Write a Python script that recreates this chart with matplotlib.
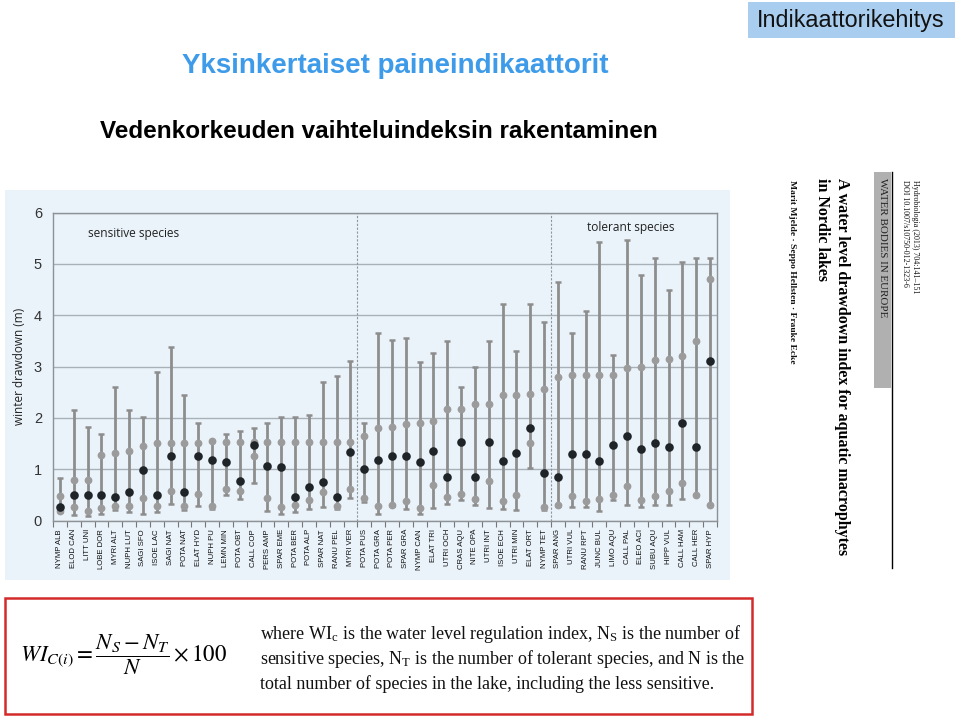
import matplotlib
matplotlib.use('Agg')
import matplotlib.pyplot as plt
from matplotlib.patches import Rectangle
from matplotlib.lines import Line2D
import numpy as np

# ---------------- data ----------------
species = ['NYMP ALB', 'ELOD CAN', 'LITT UNI', 'LOBE DOR', 'MYRI ALT', 'NUPH LUT', 'SAGI SFO',
           'ISOE LAC', 'SAGI NAT', 'POTA NAT', 'ELAT HYD', 'NUPH PU', 'LEMN MIN', 'POTA OBT',
           'CALL COP', 'PERS AMP', 'SPAR EME', 'POTA BER', 'POTA ALP', 'SPAR NAT', 'RANU PEL',
           'MYRI VER', 'POTA PUS', 'POTA GRA', 'POTA PER', 'SPAR GRA', 'NYMP CAN', 'ELAT TRI',
           'UTRI OCH', 'CRAS AQU', 'NITE OPA', 'UTRI INT', 'ISOE ECH', 'UTRI MIN', 'ELAT ORT',
           'NYMP TET', 'SPAR ANG', 'UTRI VUL', 'RANU RPT', 'JUNC BUL', 'LIMO AQU', 'CALL PAL',
           'ELEO ACI', 'SUBU AQU', 'HIPP VUL', 'CALL HAM', 'CALL HER', 'SPAR HYP']

upper_whisker = [0.84, 2.16, 1.82, 1.68, 2.60, 2.16, 2.01, 2.90, 3.39, 2.45, 1.91, 1.55,
                 1.69, 1.75, 1.81, 1.91, 2.01, 2.01, 2.06, 2.70, 2.81, 3.10, 1.90, 3.65,
                 3.51, 3.55, 3.08, 3.27, 3.49, 2.60, 2.99, 3.49, 4.22, 3.31, 4.21, 3.86,
                 4.64, 3.65, 4.09, 5.43, 3.22, 5.47, 4.78, 5.12, 4.49, 5.04, 5.12, 5.12]
upper_dot = [0.49, 0.79, 0.79, 1.27, 1.32, 1.36, 1.45, 1.51, 1.51, 1.51, 1.52, 1.55,
             1.53, 1.53, 1.53, 1.53, 1.53, 1.53, 1.53, 1.53, 1.53, 1.53, 1.65, 1.81,
             1.83, 1.88, 1.90, 1.94, 2.17, 2.17, 2.27, 2.27, 2.44, 2.45, 2.47, 2.57,
             2.79, 2.83, 2.83, 2.83, 2.83, 2.97, 3.00, 3.12, 3.14, 3.21, 3.49, 4.70]
median_dot = [0.26, 0.51, 0.51, 0.51, 0.47, 0.55, 0.98, 0.51, 1.25, 0.55, 1.26, 1.18,
              1.14, 0.78, 1.48, 1.06, 1.04, 0.47, 0.66, 0.75, 0.47, 1.34, 1.01, 1.18,
              1.25, 1.25, 1.14, 1.36, 0.86, 1.54, 0.86, 1.54, 1.17, 1.31, 1.81, 0.92,
              0.85, 1.29, 1.29, 1.16, 1.48, 1.64, 1.39, 1.51, 1.43, 1.90, 1.43, 3.11]
lower_dot = [0.19, 0.27, 0.19, 0.25, 0.29, 0.29, 0.45, 0.29, 0.57, 0.29, 0.52, 0.29,
             0.61, 0.58, 1.25, 0.45, 0.27, 0.30, 0.40, 0.56, 0.29, 0.62, 0.45, 0.29,
             0.31, 0.39, 0.24, 0.69, 0.47, 0.52, 0.42, 0.77, 0.38, 0.51, 1.51, 0.27,
             0.31, 0.49, 0.39, 0.42, 0.51, 0.68, 0.40, 0.48, 0.57, 0.74, 0.51, 0.30]
lower_whisker = [0.16, 0.12, 0.10, 0.13, 0.21, 0.17, 0.14, 0.17, 0.32, 0.21, 0.29, 0.23,
                 0.51, 0.42, 0.73, 0.19, 0.13, 0.16, 0.22, 0.26, 0.23, 0.44, 0.36, 0.13,
                 0.28, 0.23, 0.14, 0.25, 0.32, 0.40, 0.30, 0.25, 0.23, 0.21, 1.03, 0.21,
                 0.29, 0.26, 0.27, 0.18, 0.40, 0.30, 0.27, 0.30, 0.30, 0.43, 0.50, 0.30]

y_ticks = [0, 1, 2, 3, 4, 5, 6]
group_bounds = [21.5, 35.5]

# ---------------- figure ----------------
plt.rcParams['mathtext.fontset'] = 'stix'
W, H = 960, 716
fig = plt.figure(figsize=(W / 100, H / 100), dpi=100)


def fx(px):
    return px / W


def fy(py):
    return 1 - py / H


SANS = ['Liberation Sans', 'DejaVu Sans']
SERIF = ['Liberation Serif', 'DejaVu Serif']

# top-right tag
fig.patches.append(Rectangle((fx(748), fy(38)), fx(955) - fx(748), fy(2) - fy(38),
                             transform=fig.transFigure, facecolor='#a9cdee', edgecolor='none',
                             zorder=-2))
fig.text(fx(851), fy(21), 'Indikaattorikehitys', family=SANS, fontsize=16.8,
         color='#111111', ha='center', va='center')

# titles
fig.text(fx(395), fy(66), 'Yksinkertaiset paineindikaattorit', family=SANS, fontsize=20,
         fontweight='bold', color='#3d9be9', ha='center', va='center')
fig.text(fx(100), fy(132), 'Vedenkorkeuden vaihteluindeksin rakentaminen', family=SANS,
         fontsize=17.5, fontweight='bold', color='black', ha='left', va='center')

# chart panel
fig.patches.append(Rectangle((fx(5), fy(580)), fx(730) - fx(5), fy(190) - fy(580),
                             transform=fig.transFigure, facecolor='#eaf3fa', edgecolor='none',
                             zorder=-2))

ax = fig.add_axes([fx(53), fy(520.7), fx(717) - fx(53), fy(212.5) - fy(520.7)])
ax.set_facecolor('none')
x = np.arange(len(species))
wcol = '#8d8d8d'
ax.vlines(x, lower_whisker, upper_whisker, color=wcol, lw=2.0, zorder=3)
ax.plot(x, upper_whisker, ls='none', marker='_', ms=4, mew=1.8, color=wcol, zorder=3)
ax.plot(x, lower_whisker, ls='none', marker='_', ms=4, mew=1.8, color=wcol, zorder=3)
ax.plot(x, upper_dot, ls='none', marker='o', ms=5.6, color='#9b9b9b', mec='none', zorder=4)
ax.plot(x, lower_dot, ls='none', marker='o', ms=5.6, color='#9b9b9b', mec='none', zorder=4)
ax.plot(x, median_dot, ls='none', marker='o', ms=6.2, color='#1f2428', mec='none', zorder=5)

for b in group_bounds:
    ax.axvline(b, color='#8f959a', lw=0.8, ls=(0, (2, 1.5)), zorder=2)

ax.set_xlim(-0.5, len(species) - 0.5)
ax.set_ylim(0, 6)
ax.set_yticks(y_ticks)
ax.set_yticklabels([str(t) for t in y_ticks], family=SANS, fontsize=10.5, color='#333333')
ax.tick_params(axis='y', length=0, pad=8)
ax.yaxis.grid(True, color='#a9b1b8', lw=1.0, zorder=1)
ax.set_axisbelow(True)
ax.set_xticks(x)
ax.set_xticklabels(species, rotation=90, family=['Liberation Sans Narrow'] + SANS,
                   fontsize=5.6, color='#111111')
ax.tick_params(axis='x', which='major', length=0, pad=6)
ax.set_xticks(np.arange(-0.5, len(species), 1.0), minor=True)
ax.tick_params(axis='x', which='minor', length=4, width=0.8, color='#777777', direction='out')
for s in ax.spines.values():
    s.set_color('#8d9296')
    s.set_linewidth(1.0)

ax.text(5.3, 5.6, 'sensitive species', family=['Open Sans'] + SANS, fontsize=8.6,
        color='#222222', ha='center', va='center')
ax.text(41.3, 5.7, 'tolerant species', family=['Open Sans'] + SANS, fontsize=8.6,
        color='#222222', ha='center', va='center')

fig.text(fx(20), fy(366), 'winter drawdown (m)', rotation=90, family=['Open Sans'] + SANS,
         fontsize=8.5, color='#222222', ha='center', va='center')

# paper header (rotated)
fig.patches.append(Rectangle((fx(874), fy(388)), fx(891) - fx(874), fy(172) - fy(388),
                             transform=fig.transFigure, facecolor='#b0b0b0', edgecolor='none',
                             zorder=-2))
fig.lines.append(Line2D([fx(892), fx(892)], [fy(172), fy(568)], transform=fig.transFigure,
                        color='black', lw=1.0))
fig.text(fx(915), fy(180), 'Hydrobiologia (2013) 704:141\u2013151', rotation=270, family=SERIF,
         fontsize=5.8, ha='center', va='top', color='#111111')
fig.text(fx(905), fy(180), 'DOI 10.1007/s10750-012-1323-6', rotation=270, family=SERIF,
         fontsize=5.8, ha='center', va='top', color='#111111')
fig.text(fx(882.5), fy(178), 'WATER BODIES IN EUROPE', rotation=270, family=SERIF,
         fontsize=7.9, ha='center', va='top', color='#222222')
fig.text(fx(842), fy(178), 'A water level drawdown index for aquatic macrophytes',
         rotation=270, family=SERIF, fontsize=11.5, fontweight='bold', ha='center', va='top',
         color='black')
fig.text(fx(822), fy(178), 'in Nordic lakes', rotation=270, family=SERIF, fontsize=11.5,
         fontweight='bold', ha='center', va='top', color='black')
fig.text(fx(792), fy(180), 'Marit Mjelde \u00b7 Seppo Hellsten \u00b7 Frauke Ecke', rotation=270,
         family=SERIF, fontsize=6.8, fontweight='bold', ha='center', va='top', color='#111111')

# formula box
fig.patches.append(Rectangle((fx(5), fy(714)), fx(752) - fx(5), fy(598) - fy(714),
                             transform=fig.transFigure, facecolor='white', edgecolor='#d42a2a',
                             lw=1.8, zorder=-2))
fig.text(fx(20), fy(655), r'$WI_{C(i)}=\dfrac{N_S-N_T}{N}\times 100$', fontsize=16.5,
         ha='left', va='center')
lines = [r'where WI$_\mathregular{c}$ is the water level regulation index, N$_\mathregular{S}$ is the number of',
         r'sensitive species, N$_\mathregular{T}$ is the number of tolerant species, and N is the',
         'total number of species in the lake, including the less sensitive.']
for i, t in enumerate(lines):
    fig.text(fx(260), fy(634 + 25 * i), t, family=SERIF, fontsize=13, ha='left', va='center',
             color='#111111')

fig.savefig('out.png', dpi=100)
